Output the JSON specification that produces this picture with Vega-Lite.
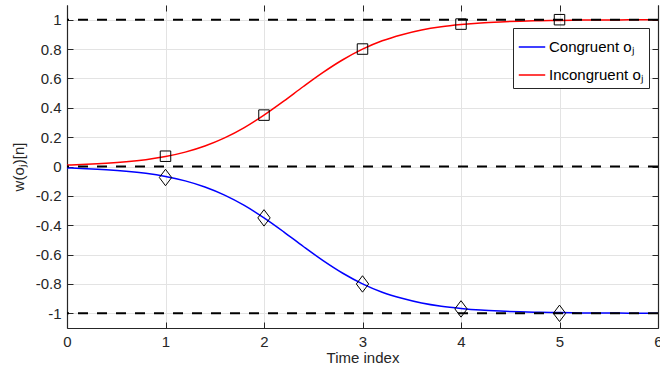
{
  "$schema": "https://vega.github.io/schema/vega-lite/v6.json",
  "width": 591,
  "height": 323,
  "autosize": {"type": "none"},
  "padding": {"left": 67, "top": 5, "right": 2, "bottom": 39},
  "background": "white",
  "config": {
    "view": {"stroke": null},
    "font": "Liberation Sans",
    "axis": {
      "labelFont": "Liberation Sans",
      "titleFont": "Liberation Sans",
      "labelFontSize": 15,
      "titleFontSize": 15,
      "titleFontWeight": "normal",
      "labelColor": "#262626",
      "titleColor": "#262626",
      "domainColor": "#262626",
      "domainWidth": 1.2,
      "tickColor": "#262626",
      "tickSize": -6,
      "labelFlush": false,
      "labelOverlap": false,
      "gridColor": "#e3e3e3",
      "gridWidth": 1
    }
  },
  "datasets": {
    "curves": [
      {"t": 0.0, "w": 0.0098, "series": "Incongruent oⱼ"},
      {"t": 0.2, "w": 0.0145, "series": "Incongruent oⱼ"},
      {"t": 0.4, "w": 0.0215, "series": "Incongruent oⱼ"},
      {"t": 0.6, "w": 0.0317, "series": "Incongruent oⱼ"},
      {"t": 0.8, "w": 0.0465, "series": "Incongruent oⱼ"},
      {"t": 1.0, "w": 0.0678, "series": "Incongruent oⱼ"},
      {"t": 1.2, "w": 0.0979, "series": "Incongruent oⱼ"},
      {"t": 1.4, "w": 0.1394, "series": "Incongruent oⱼ"},
      {"t": 1.6, "w": 0.1947, "series": "Incongruent oⱼ"},
      {"t": 1.8, "w": 0.265, "series": "Incongruent oⱼ"},
      {"t": 2.0, "w": 0.35, "series": "Incongruent oⱼ"},
      {"t": 2.2, "w": 0.445, "series": "Incongruent oⱼ"},
      {"t": 2.4, "w": 0.545, "series": "Incongruent oⱼ"},
      {"t": 2.6, "w": 0.641, "series": "Incongruent oⱼ"},
      {"t": 2.8, "w": 0.727, "series": "Incongruent oⱼ"},
      {"t": 3.0, "w": 0.799, "series": "Incongruent oⱼ"},
      {"t": 3.2, "w": 0.856, "series": "Incongruent oⱼ"},
      {"t": 3.4, "w": 0.898, "series": "Incongruent oⱼ"},
      {"t": 3.6, "w": 0.93, "series": "Incongruent oⱼ"},
      {"t": 3.8, "w": 0.952, "series": "Incongruent oⱼ"},
      {"t": 4.0, "w": 0.967, "series": "Incongruent oⱼ"},
      {"t": 4.2, "w": 0.978, "series": "Incongruent oⱼ"},
      {"t": 4.4, "w": 0.985, "series": "Incongruent oⱼ"},
      {"t": 4.6, "w": 0.99, "series": "Incongruent oⱼ"},
      {"t": 4.8, "w": 0.993, "series": "Incongruent oⱼ"},
      {"t": 5.0, "w": 0.995, "series": "Incongruent oⱼ"},
      {"t": 5.2, "w": 0.997, "series": "Incongruent oⱼ"},
      {"t": 5.4, "w": 0.998, "series": "Incongruent oⱼ"},
      {"t": 5.6, "w": 0.9986, "series": "Incongruent oⱼ"},
      {"t": 5.8, "w": 0.999, "series": "Incongruent oⱼ"},
      {"t": 6.0, "w": 0.9994, "series": "Incongruent oⱼ"},
      {"t": 0.0, "w": -0.0098, "series": "Congruent oⱼ"},
      {"t": 0.2, "w": -0.0145, "series": "Congruent oⱼ"},
      {"t": 0.4, "w": -0.0215, "series": "Congruent oⱼ"},
      {"t": 0.6, "w": -0.0317, "series": "Congruent oⱼ"},
      {"t": 0.8, "w": -0.0465, "series": "Congruent oⱼ"},
      {"t": 1.0, "w": -0.0678, "series": "Congruent oⱼ"},
      {"t": 1.2, "w": -0.0979, "series": "Congruent oⱼ"},
      {"t": 1.4, "w": -0.1394, "series": "Congruent oⱼ"},
      {"t": 1.6, "w": -0.1947, "series": "Congruent oⱼ"},
      {"t": 1.8, "w": -0.265, "series": "Congruent oⱼ"},
      {"t": 2.0, "w": -0.35, "series": "Congruent oⱼ"},
      {"t": 2.2, "w": -0.445, "series": "Congruent oⱼ"},
      {"t": 2.4, "w": -0.545, "series": "Congruent oⱼ"},
      {"t": 2.6, "w": -0.641, "series": "Congruent oⱼ"},
      {"t": 2.8, "w": -0.727, "series": "Congruent oⱼ"},
      {"t": 3.0, "w": -0.799, "series": "Congruent oⱼ"},
      {"t": 3.2, "w": -0.856, "series": "Congruent oⱼ"},
      {"t": 3.4, "w": -0.898, "series": "Congruent oⱼ"},
      {"t": 3.6, "w": -0.93, "series": "Congruent oⱼ"},
      {"t": 3.8, "w": -0.952, "series": "Congruent oⱼ"},
      {"t": 4.0, "w": -0.967, "series": "Congruent oⱼ"},
      {"t": 4.2, "w": -0.978, "series": "Congruent oⱼ"},
      {"t": 4.4, "w": -0.985, "series": "Congruent oⱼ"},
      {"t": 4.6, "w": -0.99, "series": "Congruent oⱼ"},
      {"t": 4.8, "w": -0.993, "series": "Congruent oⱼ"},
      {"t": 5.0, "w": -0.995, "series": "Congruent oⱼ"},
      {"t": 5.2, "w": -0.997, "series": "Congruent oⱼ"},
      {"t": 5.4, "w": -0.998, "series": "Congruent oⱼ"},
      {"t": 5.6, "w": -0.9986, "series": "Congruent oⱼ"},
      {"t": 5.8, "w": -0.999, "series": "Congruent oⱼ"},
      {"t": 6.0, "w": -0.9994, "series": "Congruent oⱼ"}
    ],
    "squares": [
      {"t": 1, "w": 0.07}, {"t": 2, "w": 0.35}, {"t": 3, "w": 0.8}, {"t": 4, "w": 0.97}, {"t": 5, "w": 1.0}
    ],
    "diamonds": [
      {"t": 1, "w": -0.075}, {"t": 2, "w": -0.35}, {"t": 3, "w": -0.8}, {"t": 4, "w": -0.97}, {"t": 5, "w": -1.0}
    ],
    "levels": [{"w": -1}, {"w": 0}, {"w": 1}],
    "frame": [{"t": 0, "w": 0}]
  },
  "resolve": {"axis": {"x": "independent", "y": "independent"}},
  "layer": [
    {
      "data": {"name": "curves"},
      "mark": {"type": "line", "strokeWidth": 1.5, "interpolate": "monotone"},
      "encoding": {
        "x": {
          "field": "t", "type": "quantitative",
          "scale": {"domain": [0, 6], "nice": false, "zero": false},
          "axis": {"title": "Time index", "values": [0, 1, 2, 3, 4, 5, 6], "grid": true, "labelPadding": 12, "titlePadding": 1, "domain": true}
        },
        "y": {
          "field": "w", "type": "quantitative",
          "scale": {"domain": [-1.1, 1.1], "nice": false, "zero": false},
          "axis": {"title": "w(oⱼ)[n]", "values": [-1, -0.8, -0.6, -0.4, -0.2, 0, 0.2, 0.4, 0.6, 0.8, 1], "labelExpr": "'' + datum.value", "grid": true, "labelPadding": 12, "titlePadding": 9}
        },
        "color": {
          "field": "series", "type": "nominal",
          "scale": {"domain": ["Congruent oⱼ", "Incongruent oⱼ"], "range": ["#0000ff", "#ff0000"]},
          "legend": {
            "title": null,
            "orient": "none",
            "legendX": 446,
            "legendY": 23,
            "direction": "vertical",
            "symbolType": "stroke",
            "symbolStrokeWidth": 1.5,
            "symbolSize": 700,
            "labelFont": "Liberation Sans",
            "labelFontSize": 15,
            "labelColor": "#000000",
            "strokeColor": "#262626",
            "fillColor": "white",
            "padding": 5,
            "rowPadding": 6,
            "labelOffset": 3
          }
        }
      }
    },
    {
      "data": {"name": "levels"},
      "mark": {"type": "rule", "color": "black", "strokeWidth": 2, "strokeDash": [10, 9]},
      "encoding": {
        "y": {"field": "w", "type": "quantitative", "axis": null}
      }
    },
    {
      "data": {"name": "squares"},
      "mark": {"type": "point", "shape": "square", "filled": false, "stroke": "black", "strokeWidth": 1, "size": 110, "opacity": 1},
      "encoding": {
        "x": {"field": "t", "type": "quantitative", "axis": null},
        "y": {"field": "w", "type": "quantitative", "axis": null}
      }
    },
    {
      "data": {"name": "diamonds"},
      "mark": {"type": "point", "shape": "M-0.75,0L0,-1L0.75,0L0,1Z", "filled": false, "stroke": "black", "strokeWidth": 1, "size": 270, "opacity": 1},
      "encoding": {
        "x": {"field": "t", "type": "quantitative", "axis": null},
        "y": {"field": "w", "type": "quantitative", "axis": null}
      }
    },
    {
      "data": {"name": "frame"},
      "mark": {"type": "point", "opacity": 0},
      "encoding": {
        "x": {"field": "t", "type": "quantitative", "axis": {"orient": "top", "title": null, "labels": false, "grid": false, "domain": false, "values": [0, 1, 2, 3, 4, 5, 6]}},
        "y": {"field": "w", "type": "quantitative", "axis": {"orient": "right", "title": null, "labels": false, "grid": false, "domain": true, "values": [-1, -0.8, -0.6, -0.4, -0.2, 0, 0.2, 0.4, 0.6, 0.8, 1]}}
      }
    }
  ]
}
